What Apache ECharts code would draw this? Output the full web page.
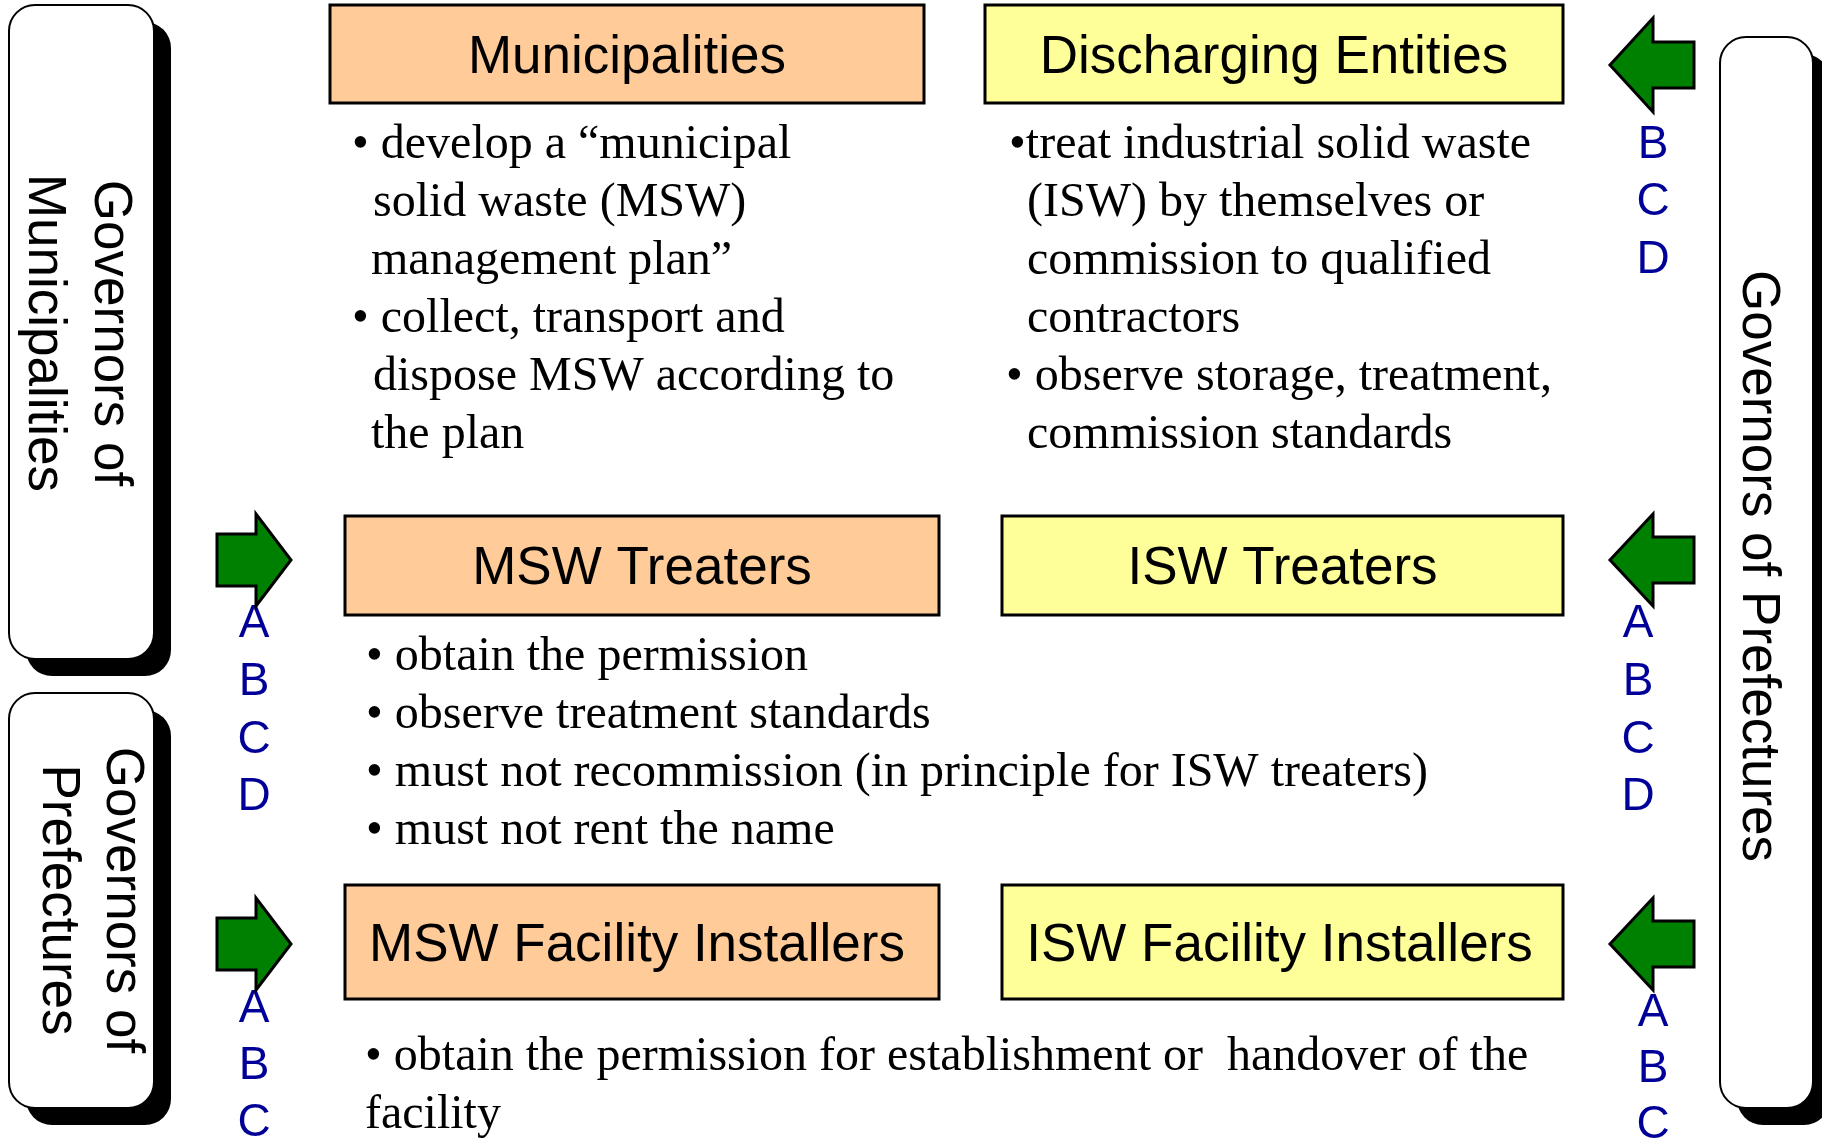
<!DOCTYPE html>
<html><head><meta charset="utf-8">
<script src="https://cdn.jsdelivr.net/npm/echarts@6/dist/echarts.min.js"></script>
<style>html,body{margin:0;padding:0;background:#fff}#c{width:1822px;height:1141px}</style>
</head><body><div id="c"></div>
<script>
// ---- content (data) ----
var headerLabels = ['Municipalities','Discharging Entities','MSW Treaters','ISW Treaters','MSW Facility Installers','ISW Facility Installers'];
var governorLeftTop = ['Governors of','Municipalities'];
var governorLeftBottom = ['Governors of','Prefectures'];
var governorRight = ['Governors of Prefectures'];
var municipalLines = ['\u2022 develop a \u201cmunicipal','solid waste (MSW)','management plan\u201d','\u2022 collect, transport and','dispose MSW according to','the plan'];
var dischargeLines = ['\u2022treat industrial solid waste','(ISW) by themselves or','commission to qualified','contractors','\u2022 observe storage, treatment,','commission standards'];
var treaterLines = ['\u2022 obtain the permission','\u2022 observe treatment standards','\u2022 must not recommission (in principle for ISW treaters)','\u2022 must not rent the name'];
var installerLines = ['\u2022 obtain the permission for establishment or  handover of the','facility'];
var lettersTopRight = ['B','C','D'];
var lettersMid = ['A','B','C','D'];
var lettersBottom = ['A','B','C'];

// ---- layout ----
var ORANGE='#FFCC99', YELLOW='#FFFF99', GREEN='#008000', BLUE='#000099';
var SANS='Liberation Sans, Arial, sans-serif', SERIF='Liberation Serif, Times New Roman, serif';
var headerBoxes = [
  [330,5,594,98,ORANGE],[985,5,578,98,YELLOW],
  [345,516,594,99,ORANGE],[1002,516,561,99,YELLOW],
  [345,885,594,114,ORANGE],[1002,885,561,114,YELLOW]
];
var headerTextDx = [0,0,0,0,-5,-3];
var els = [];
function rbox(x,y,w,h){
  els.push({type:'rect',shape:{x:x+17,y:y+17,width:w,height:h,r:26},style:{fill:'#000'}});
  els.push({type:'rect',shape:{x:x,y:y,width:w,height:h,r:26},style:{fill:'#fff',stroke:'#000',lineWidth:2}});
}
rbox(9,5,145,654);
rbox(9,693,145,415);
rbox(1720,37,93,1071);
function vtext(lines,xs,cy){
  lines.forEach(function(t,i){
    els.push({type:'text',x:xs[i],y:cy,rotation:-Math.PI/2,style:{text:t,font:'53px '+SANS,fill:'#000',align:'center',verticalAlign:'middle'}});
  });
}
vtext(governorLeftTop,[110,44],333);
vtext(governorLeftBottom,[122,58],900);
vtext(governorRight,[1758],566);
headerBoxes.forEach(function(b,i){
  els.push({type:'rect',shape:{x:b[0],y:b[1],width:b[2],height:b[3]},style:{fill:b[4],stroke:'#000',lineWidth:3}});
  els.push({type:'text',x:b[0]+b[2]/2+headerTextDx[i],y:b[1]+b[3]/2+4,style:{text:headerLabels[i],font:'53px '+SANS,fill:'#000',align:'center',verticalAlign:'middle'}});
});
function lines(arr,xs,y0,dy){
  arr.forEach(function(t,i){
    els.push({type:'text',x:xs[i],y:y0+i*dy,style:{text:t,font:'48px '+SERIF,fill:'#000',align:'left',verticalAlign:'middle'}});
  });
}
lines(municipalLines,[352,373,371,352,373,371],145.5,57.9);
lines(dischargeLines,[1009,1027,1027,1027,1006,1027],145.5,57.9);
lines(treaterLines,[366,366,366,366],657.5,57.9);
lines(installerLines,[365,365],1057,58);
function letters(arr,x,y0,dy){
  arr.forEach(function(t,i){
    els.push({type:'text',x:x,y:y0+i*dy,style:{text:t,font:'46px '+SANS,fill:BLUE,align:'center',verticalAlign:'middle'}});
  });
}
letters(lettersTopRight,1653,145,57.5);
letters(lettersMid,254,624.5,57.7);
letters(lettersMid,1638,624.5,57.7);
letters(lettersBottom,254,1009,57);
letters(lettersBottom,1653,1013,56);
function arrowRight(y){ // tip at y
  var pts=[[217,y-26],[256,y-26],[256,y-46],[291,y],[256,y+46],[256,y+26],[217,y+26]];
  els.push({type:'polygon',shape:{points:pts},style:{fill:GREEN,stroke:'#000',lineWidth:3}});
}
function arrowLeft(y,hh,sh){
  var pts=[[1694,y-sh],[1653,y-sh],[1653,y-hh],[1610,y],[1653,y+hh],[1653,y+sh],[1694,y+sh]];
  els.push({type:'polygon',shape:{points:pts},style:{fill:GREEN,stroke:'#000',lineWidth:3}});
}
arrowRight(560); arrowRight(944);
arrowLeft(65,47,23); arrowLeft(560,46,23); arrowLeft(944,46,23);

var chart = echarts.init(document.getElementById('c'),null,{renderer:'canvas'});
chart.setOption({animation:false,backgroundColor:'#fff',graphic:{elements:els}});
</script></body></html>
